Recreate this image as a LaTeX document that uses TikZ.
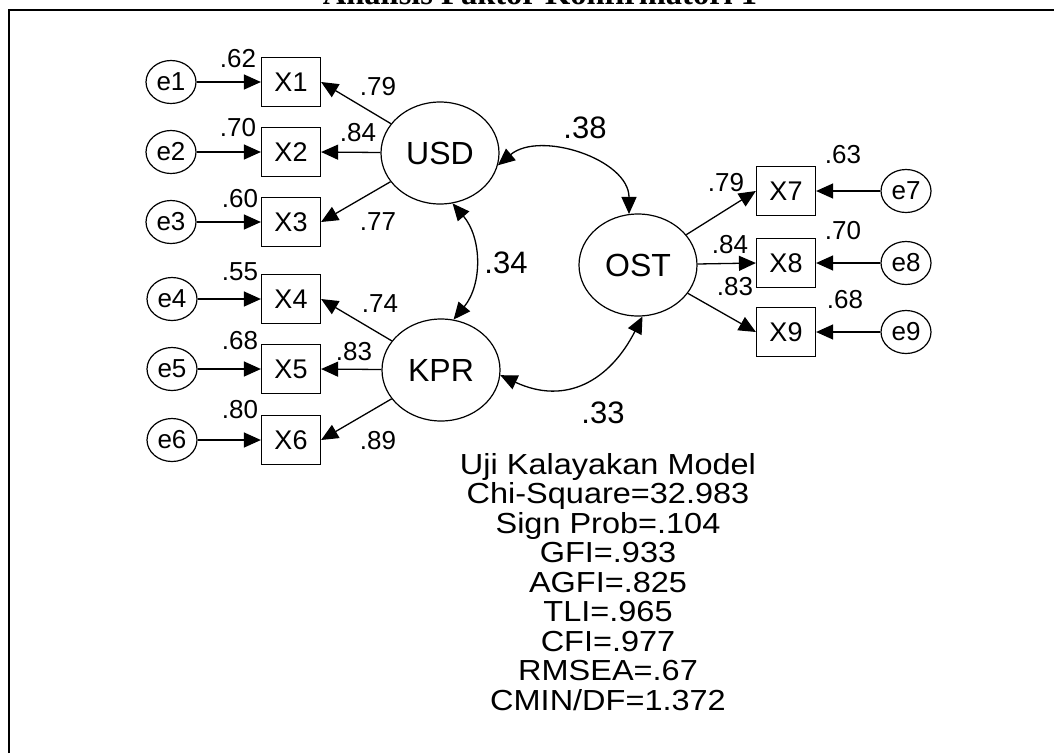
\documentclass[tikz,border=0pt]{standalone}
\usepackage{fontspec}
\setmainfont{Liberation Sans}
\newfontfamily\titlefont{Liberation Serif}
\newfontfamily\widefont[FakeStretch=1.12]{Liberation Sans}
\usetikzlibrary{shapes.geometric,arrows.meta}
\tikzset{
  latent/.style={ellipse, draw, line width=1.2pt, minimum width=118pt, minimum height=102pt, inner sep=0pt, font=\fontsize{32}{36}\selectfont},
  obs/.style={rectangle, draw, line width=1.2pt, minimum width=59pt, minimum height=49pt, inner sep=0pt, font=\fontsize{27}{30}\selectfont},
  err/.style={ellipse, draw, line width=1.2pt, minimum width=50pt, minimum height=43pt, inner sep=0pt, font=\fontsize{26}{28}\selectfont},
  lbl/.style={inner sep=0pt, font=\fontsize{26}{28}\selectfont},
  covl/.style={inner sep=0pt, font=\fontsize{31}{34}\selectfont},
  arr/.style={-{Triangle[length=17pt,width=15pt]}, line width=1.3pt},
  darr/.style={{Triangle[length=17pt,width=15pt]}-{Triangle[length=17pt,width=15pt]}, line width=1.3pt},
  frame/.style={line width=2pt}
}
\begin{document}
\begin{tikzpicture}[x=1pt,y=-1pt]
\useasboundingbox (0,0) rectangle (1054,753);
% title (cut at top, as in the reference)
\node[anchor=base, inner sep=0pt] (title) at (540,4) {\titlefont\bfseries\fontsize{32.5}{33}\selectfont Analisis Faktor Konfirmatori 1};
% frame
\coordinate (f1) at (9,753);
\coordinate (f2) at (9,10);
\coordinate (f3) at (1054,10);
\draw[frame] (f1) -- (f2) -- (f3);

% latent variables
\node[latent] (USD) at (440,153) {USD};
\node[latent] (KPR) at (441,370) {KPR};
\node[latent] (OST) at (638,265) {OST};

% observed
\node[obs] (X1) at (291,82) {X1};
\node[obs] (X2) at (291,152) {X2};
\node[obs] (X3) at (291,222) {X3};
\node[obs] (X4) at (291,299) {X4};
\node[obs] (X5) at (291,369) {X5};
\node[obs] (X6) at (291,440) {X6};
\node[obs] (X7) at (786,191) {X7};
\node[obs] (X8) at (786,263) {X8};
\node[obs] (X9) at (786,332) {X9};

% errors
\node[err] (e1) at (171,82) {e1};
\node[err] (e2) at (171,152) {e2};
\node[err] (e3) at (171,222) {e3};
\node[err] (e4) at (172,299) {e4};
\node[err] (e5) at (172,369) {e5};
\node[err] (e6) at (172,440) {e6};
\node[err] (e7) at (906,191) {e7};
\node[err] (e8) at (906,263) {e8};
\node[err] (e9) at (906,332) {e9};

% error arrows
\foreach \i in {1,...,9} {\draw[arr] (e\i) -- (X\i);}

% loadings
\draw[arr] (USD) -- (X1.east);
\draw[arr] (USD) -- (X2.east);
\draw[arr] (USD) -- (X3.east);
\draw[arr] (KPR) -- (X4.east);
\draw[arr] (KPR) -- (X5.east);
\draw[arr] (KPR) -- (X6.east);
\draw[arr] (OST) -- (X7.west);
\draw[arr] (OST) -- (X8.west);
\draw[arr] (OST) -- (X9.west);

% covariances
\draw[darr] (USD.-12) to[out=40, in=90] (OST.100);
\draw[darr] (USD.-76) to[bend left=40] (KPR.76);
\draw[darr] (KPR.-5) to[out=-25, in=-117, looseness=1.2] (OST.-85);

% squared multiple correlations
\node[lbl] (r1) at (238,59) {.62};
\node[lbl] (r2) at (238,128) {.70};
\node[lbl] (r3) at (240,199) {.60};
\node[lbl] (r4) at (240,272) {.55};
\node[lbl] (r5) at (240,341) {.68};
\node[lbl] (r6) at (240,410) {.80};
\node[lbl] (r7) at (843,155) {.63};
\node[lbl] (r8) at (843,231) {.70};
\node[lbl] (r9) at (845,300) {.68};
% loading labels
\node[lbl] (l1) at (378,87) {.79};
\node[lbl] (l2) at (358,133) {.84};
\node[lbl] (l3) at (378,222) {.77};
\node[lbl] (l4) at (380,304) {.74};
\node[lbl] (l5) at (354,352) {.83};
\node[lbl] (l6) at (378,441) {.89};
\node[lbl] (l7) at (726,183) {.79};
\node[lbl] (l8) at (730,245) {.84};
\node[lbl] (l9) at (735,287) {.83};
% covariance labels
\node[covl] (c1) at (585,128) {.38};
\node[covl] (c2) at (506,263) {.34};
\node[covl] (c3) at (603,413) {.33};

% fit indices
\node[anchor=north, inner sep=0pt, align=center, font=\widefont\fontsize{29}{29.5}\selectfont] (fit) at (608,453)
{Uji Kalayakan Model\\Chi-Square=32.983\\Sign Prob=.104\\GFI=.933\\AGFI=.825\\TLI=.965\\CFI=.977\\RMSEA=.67\\CMIN/DF=1.372};
\end{tikzpicture}
\end{document}
